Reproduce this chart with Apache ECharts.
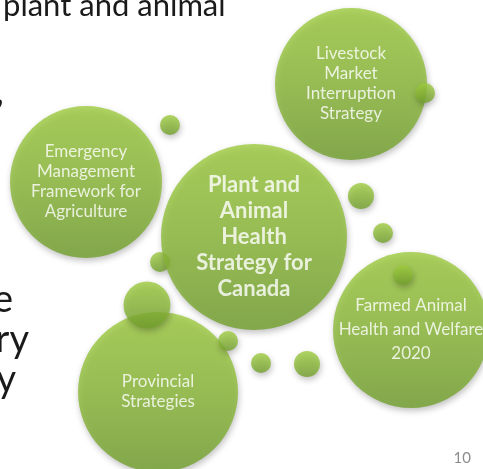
<!DOCTYPE html>
<html>
<head>
<meta charset="utf-8">
<script src="https://cdn.jsdelivr.net/npm/echarts@6/dist/echarts.min.js"></script>
<style>
html,body{margin:0;padding:0;background:#fff;}
#chart{width:483px;height:469px;}
</style>
</head>
<body>
<div id="chart"></div>
<script>
// Big labelled circles
const bigNames = [
  'Livestock\nMarket\nInterruption\nStrategy',
  'Emergency\nManagement\nFramework for\nAgriculture',
  'Plant and\nAnimal\nHealth\nStrategy for\nCanada',
  'Farmed Animal\nHealth and Welfare\n2020',
  'Provincial\nStrategies'
];
const bigX = [351, 86, 254, 411, 158];
const bigY = [84, 182, 237, 330, 392];
const bigR = [76, 76, 93, 78, 80];

// Small decorative circles drawn behind the big ones
const backX = [160];
const backY = [262];
const backR = [10];

// Small decorative circles drawn in front
const smallX = [425, 170, 361, 383, 147, 228, 261, 307, 403];
const smallY = [93, 125, 196, 233, 305, 341, 363, 364, 275];
const smallR = [10, 10, 13, 10, 23.5, 10, 10, 13, 10];

// Slide text fragments
const titleText = 'plant and animal';
const sideTexts = [',', 'e', 'ry', 'y'];
const pageNumber = '10';

const greenFill = new echarts.graphic.LinearGradient(0, 0, 0, 1, [
  {offset: 0, color: '#9ecc3e'},
  {offset: 0.5, color: '#8cba38'},
  {offset: 1, color: '#72a02d'}
]);
const itemStyle = {
  color: greenFill,
  shadowColor: 'rgba(0,0,0,0.3)',
  shadowBlur: 6,
  shadowOffsetX: 1,
  shadowOffsetY: 3
};

function pts(xs, ys, rs, names) {
  return xs.map((x, i) => {
    const d = {value: [x, ys[i], rs[i]]};
    if (names) d.name = names[i];
    return d;
  });
}

const bigData = pts(bigX, bigY, bigR, bigNames);
bigData[2].label = {fontWeight: 'bold', fontSize: 22, lineHeight: 26};
bigData[3].label = {lineHeight: 24};

const chart = echarts.init(document.getElementById('chart'), null, {renderer: 'canvas'});
const FONT = 'Lato, "Open Sans", sans-serif';

chart.setOption({
  backgroundColor: '#ffffff',
  animation: false,
  grid: {left: 0, right: 0, top: 0, bottom: 0},
  xAxis: {type: 'value', min: 0, max: 483, show: false},
  yAxis: {type: 'value', min: 0, max: 469, inverse: true, show: false},
  series: [
    {
      type: 'scatter', clip: false, z: 1,
      symbolSize: v => v[2] * 2,
      itemStyle: itemStyle,
      data: pts(backX, backY, backR)
    },
    {
      type: 'scatter', clip: false, z: 2,
      symbolSize: v => v[2] * 2,
      itemStyle: itemStyle,
      label: {
        show: true, position: 'inside', formatter: '{b}',
        color: '#ffffff', fontFamily: FONT, fontSize: 17, lineHeight: 20, align: 'center'
      },
      emphasis: {disabled: true},
      data: bigData
    },
    {
      type: 'scatter', clip: false, z: 3,
      symbolSize: v => v[2] * 2,
      itemStyle: itemStyle,
      data: pts(smallX, smallY, smallR)
    }
  ],
  graphic: [
    {type: 'text', x: 3, y: 6, z: 10,
     style: {text: titleText, font: '31px ' + FONT, fill: '#1a1a1a', textAlign: 'left', textVerticalAlign: 'middle'}},
    {type: 'text', x: 4, y: 92, z: 10,
     style: {text: sideTexts[0], font: '38px ' + FONT, fill: '#1a1a1a', textAlign: 'right', textVerticalAlign: 'middle'}},
    {type: 'text', x: 13, y: 300, z: 10,
     style: {text: sideTexts[1], font: '38px ' + FONT, fill: '#1a1a1a', textAlign: 'right', textVerticalAlign: 'middle'}},
    {type: 'text', x: 29, y: 340, z: 10,
     style: {text: sideTexts[2], font: '38px ' + FONT, fill: '#1a1a1a', textAlign: 'right', textVerticalAlign: 'middle'}},
    {type: 'text', x: 16, y: 380, z: 10,
     style: {text: sideTexts[3], font: '38px ' + FONT, fill: '#1a1a1a', textAlign: 'right', textVerticalAlign: 'middle'}},
    {type: 'text', x: 471, y: 458, z: 10,
     style: {text: pageNumber, font: '15px ' + FONT, fill: '#8c8c8c', textAlign: 'right', textVerticalAlign: 'middle'}}
  ]
});
</script>
</body>
</html>
